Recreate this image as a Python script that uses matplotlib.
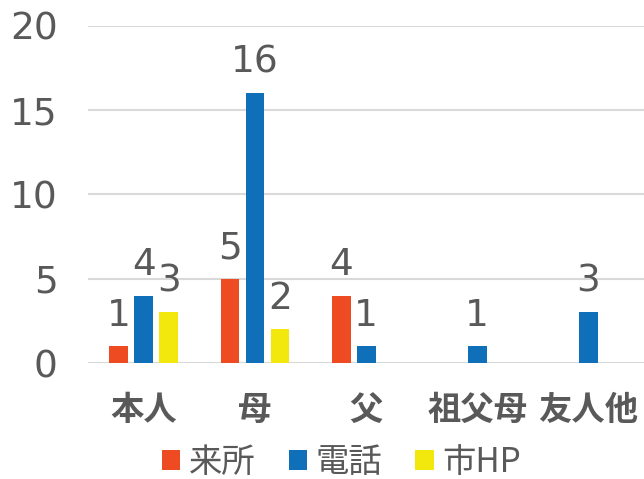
import matplotlib
matplotlib.use("Agg")
import matplotlib.pyplot as plt
import numpy as np

plt.rcParams['font.family'] = ['Noto Sans CJK JP', 'DejaVu Sans']

categories = ['本人', '母', '父', '祖父母', '友人他']
series_names = ['来所', '電話', '市HP']
raisho = [1, 5, 4, 0, 0]
denwa = [4, 16, 1, 1, 3]
shi_hp = [3, 2, 0, 0, 0]
yticks = [0, 5, 10, 15, 20]

colors = ['#EE4B22', '#0F6FB8', '#F2E80E']
gray = '#595959'
num_font = ['DejaVu Sans']

fig = plt.figure(figsize=(6.44, 4.79), dpi=100)
ax = fig.add_axes([0.137, 0.242, 0.863, 0.704])

x = np.arange(len(categories))
width = 0.17
step = 0.225
for i, (vals, name) in enumerate(zip([raisho, denwa, shi_hp], series_names)):
    pos = x + (i - 1) * step
    bars = ax.bar(pos, vals, width, color=colors[i], label=name, zorder=2)
    for b, v in zip(bars, vals):
        if v == 0:
            continue
        ax.annotate(str(v), (b.get_x() + b.get_width() / 2, v),
                    xytext=(0, 9), textcoords='offset points',
                    ha='center', va='bottom', fontsize=27, color=gray,
                    family=num_font)

ax.set_xlim(-0.5, len(categories) - 0.5)
ax.set_ylim(0, 20)
ax.set_yticks(yticks)
ax.set_yticklabels([str(t) for t in yticks], family=num_font)
ax.set_xticks(x)
ax.set_xticklabels(categories, fontsize=24, fontweight='bold', color=gray)
ax.tick_params(axis='y', labelsize=27, labelcolor=gray, length=0, pad=22)
ax.tick_params(axis='x', length=0, pad=22)
ax.grid(axis='y', color='#D9D9D9', linewidth=1.5, zorder=0)
ax.set_axisbelow(True)
for s in ax.spines.values():
    s.set_visible(False)

leg = fig.legend(loc='lower center', bbox_to_anchor=(0.53, -0.065), ncol=3,
                 frameon=False, fontsize=24, handlelength=0.55, handleheight=0.55,
                 handletextpad=0.25, columnspacing=1.0)
for t in leg.get_texts():
    t.set_color(gray)

fig.savefig('out.png', dpi=100)
